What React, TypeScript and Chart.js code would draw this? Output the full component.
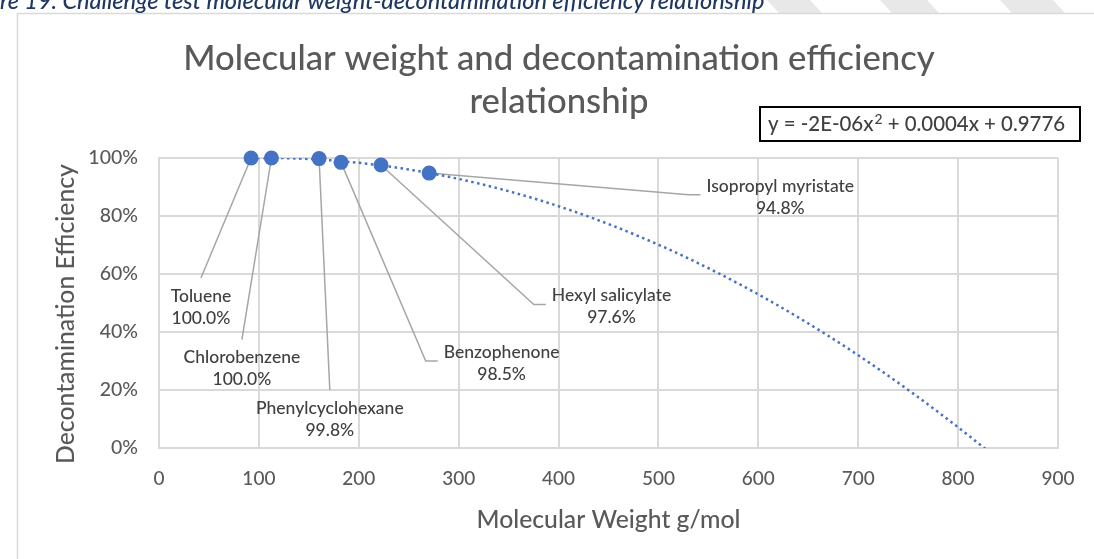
import React, { useEffect, useRef } from "react";
import { Chart, registerables } from "chart.js";

Chart.register(...registerables);

// ---------- data ----------
const compounds = [
  "Toluene",
  "Chlorobenzene",
  "Phenylcyclohexane",
  "Benzophenone",
  "Hexyl salicylate",
  "Isopropyl myristate",
];
const molecularWeights = [92.14, 112.56, 160.26, 182.22, 222.28, 270.45];
const efficiencies = [1.0, 1.0, 0.998, 0.985, 0.976, 0.948];

const xTickValues = [0, 100, 200, 300, 400, 500, 600, 700, 800, 900];
const yTickValues = [0, 0.2, 0.4, 0.6, 0.8, 1.0];

const captionText =
  "re 19. Challenge test molecular weight-decontamination efficiency relationship";
const titleLines = ["Molecular weight and decontamination efficiency", "relationship"];
const equationParts = ["y = -2E-06x", "2", " + 0.0004x + 0.9776"];
const xAxisTitle = "Molecular Weight g/mol";
const yAxisTitle = "Decontamination Efficiency";

// label placement (in axis units) and leader style
const labelCentersX = [42, 83, 171, 343, 453, 622];
const labelCentersY = [0.486, 0.274, 0.1, 0.293, 0.488, 0.866];
const leaderKinds = ["top", "top", "top", "left", "left", "left"];

// ---------- helpers ----------
const FONT = "Lato, 'Open Sans', sans-serif";
const W = "500";
const BLUE = "#4472C4";
const TXT = "#595959";
const LBL = "#404040";
const LABEL_FONT = `${W} 17.5px ${FONT}`;

function quadFit(xs: number[], ys: number[]) {
  // least-squares quadratic, x scaled by 100 for conditioning
  const t = xs.map((v) => v / 100);
  let n = t.length, s1 = 0, s2 = 0, s3 = 0, s4 = 0, sy = 0, sty = 0, st2y = 0;
  for (let i = 0; i < n; i++) {
    const a = t[i], y = ys[i];
    s1 += a; s2 += a * a; s3 += a * a * a; s4 += a * a * a * a;
    sy += y; sty += a * y; st2y += a * a * y;
  }
  const M = [
    [n, s1, s2, sy],
    [s1, s2, s3, sty],
    [s2, s3, s4, st2y],
  ];
  for (let c = 0; c < 3; c++) {
    let p = c;
    for (let r = c + 1; r < 3; r++) if (Math.abs(M[r][c]) > Math.abs(M[p][c])) p = r;
    [M[c], M[p]] = [M[p], M[c]];
    for (let r = 0; r < 3; r++) {
      if (r === c) continue;
      const f = M[r][c] / M[c][c];
      for (let k = c; k < 4; k++) M[r][k] -= f * M[c][k];
    }
  }
  const c0 = M[0][3] / M[0][0], c1 = M[1][3] / M[1][1], c2 = M[2][3] / M[2][2];
  return (x: number) => {
    const a = x / 100;
    return c0 + c1 * a + c2 * a * a;
  };
}

function fitSize(ctx: CanvasRenderingContext2D, text: string, style: string, target: number) {
  ctx.font = `${style} 100px ${FONT}`;
  const w = ctx.measureText(text).width;
  return (100 * target) / w;
}

const overlayPlugin = {
  id: "overlay",
  beforeDraw(chart: any) {
    const ctx = chart.ctx;
    ctx.save();
    ctx.fillStyle = "#ffffff";
    ctx.fillRect(0, 0, chart.width, chart.height);
    // faint watermark stripes at the top
    ctx.fillStyle = "#e8e8e8";
    const stripes = [767, 880, 1000];
    const widths = [43, 47, 53];
    stripes.forEach((s, i) => {
      ctx.beginPath();
      ctx.moveTo(s, 0);
      ctx.lineTo(s + widths[i], 0);
      ctx.lineTo(s + widths[i] + 12, 13);
      ctx.lineTo(s + 12, 13);
      ctx.closePath();
      ctx.fill();
    });
    // chart container border
    ctx.strokeStyle = "#d9d9d9";
    ctx.lineWidth = 1.5;
    ctx.strokeRect(17.5, 13.5, chart.width + 20, chart.height + 20);
    // caption
    ctx.fillStyle = "#1f3763";
    const cs = fitSize(ctx, captionText, `italic ${W}`, 765);
    ctx.font = `italic ${W} ${cs}px ${FONT}`;
    ctx.textAlign = "left";
    ctx.textBaseline = "alphabetic";
    ctx.fillText(captionText, 0, 8.5);
    ctx.restore();
  },
  beforeDatasetsDraw(chart: any) {
    const ctx = chart.ctx;
    const xs = chart.scales.x, ys = chart.scales.y;
    ctx.save();
    ctx.strokeStyle = "#a6a6a6";
    ctx.lineWidth = 1.5;
    ctx.font = LABEL_FONT;
    compounds.forEach((name, i) => {
      const px = xs.getPixelForValue(molecularWeights[i]);
      const py = ys.getPixelForValue(efficiencies[i]);
      const cx = xs.getPixelForValue(labelCentersX[i]);
      const cy = ys.getPixelForValue(labelCentersY[i]);
      ctx.beginPath();
      ctx.moveTo(px, py);
      if (leaderKinds[i] === "top") {
        ctx.lineTo(cx, cy - 29);
      } else {
        const val = (efficiencies[i] * 100).toFixed(1) + "%";
        const w = Math.max(ctx.measureText(name).width, ctx.measureText(val).width);
        const left = cx - w / 2;
        ctx.lineTo(left - 18, cy - 2);
        ctx.lineTo(left - 6, cy - 2);
      }
      ctx.stroke();
    });
    ctx.restore();
  },
  afterDraw(chart: any) {
    const ctx = chart.ctx;
    const xs = chart.scales.x, ys = chart.scales.y;
    ctx.save();
    // data labels
    ctx.fillStyle = LBL;
    ctx.font = LABEL_FONT;
    ctx.textAlign = "center";
    ctx.textBaseline = "middle";
    compounds.forEach((name, i) => {
      const cx = xs.getPixelForValue(labelCentersX[i]);
      const cy = ys.getPixelForValue(labelCentersY[i]);
      ctx.fillText(name, cx, cy - 11);
      ctx.fillText((efficiencies[i] * 100).toFixed(1) + "%", cx, cy + 11);
    });

    // chart title
    ctx.fillStyle = TXT;
    const ts = fitSize(ctx, titleLines[0], W, 752);
    ctx.font = `${W} ${ts}px ${FONT}`;
    ctx.textBaseline = "alphabetic";
    ctx.fillText(titleLines[0], 559, 70);
    ctx.fillText(titleLines[1], 559, 113);

    // axis titles
    const at = fitSize(ctx, xAxisTitle, W, 264);
    ctx.font = `${W} ${at}px ${FONT}`;
    ctx.textBaseline = "middle";
    ctx.fillText(xAxisTitle, (xs.left + xs.right) / 2, 520);
    const yt = fitSize(ctx, yAxisTitle, W, 300);
    ctx.font = `${W} ${yt}px ${FONT}`;
    ctx.translate(66, 314);
    ctx.rotate(-Math.PI / 2);
    ctx.fillText(yAxisTitle, 0, 0);
    ctx.setTransform(1, 0, 0, 1, 0, 0);

    // equation box
    ctx.fillStyle = "#ffffff";
    ctx.fillRect(760, 107, 320, 34);
    ctx.strokeStyle = "#000000";
    ctx.lineWidth = 2;
    ctx.strokeRect(760, 107, 320, 34);
    const eqFull = equationParts[0] + equationParts[1] + equationParts[2];
    const es = fitSize(ctx, eqFull, W, 300);
    ctx.fillStyle = "#404040";
    ctx.textAlign = "left";
    ctx.textBaseline = "alphabetic";
    let x = 768;
    ctx.font = `${W} ${es}px ${FONT}`;
    ctx.fillText(equationParts[0], x, 131);
    x += ctx.measureText(equationParts[0]).width + 1;
    ctx.font = `${W} ${es * 0.68}px ${FONT}`;
    ctx.fillText(equationParts[1], x, 124);
    x += ctx.measureText(equationParts[1]).width;
    ctx.font = `${W} ${es}px ${FONT}`;
    ctx.fillText(equationParts[2], x, 131);
    ctx.restore();
  },
};

export default function App() {
  const ref = useRef<HTMLCanvasElement>(null);
  useEffect(() => {
    const canvas = ref.current!;
    const f = quadFit(molecularWeights, efficiencies);
    const trend: { x: number; y: number }[] = [];
    for (let x = molecularWeights[0]; x <= 900; x += 3) {
      const y = f(x);
      trend.push({ x, y });
      if (y < 0) break;
    }
    const points = molecularWeights.map((x, i) => ({ x, y: efficiencies[i] }));

    const chart = new Chart(canvas, {
      type: "scatter",
      data: {
        datasets: [
          {
            label: "Decontamination efficiency",
            data: points,
            backgroundColor: BLUE,
            borderColor: BLUE,
            pointRadius: 7.5,
            pointBorderWidth: 0,
            showLine: false,
            clip: false as any,
          },
          {
            label: "Poly. trend",
            data: trend,
            showLine: true,
            pointRadius: 0,
            borderColor: BLUE,
            borderWidth: 2.5,
            borderDash: [2.5, 3.5],
            fill: false,
            tension: 0,
          },
        ],
      },
      options: {
        responsive: false,
        animation: false,
        devicePixelRatio: 1,
        layout: { padding: { left: 0, top: 158, right: 36, bottom: 0 } },
        plugins: {
          legend: { display: false },
          title: { display: false },
          tooltip: { enabled: false },
        },
        scales: {
          x: {
            type: "linear",
            min: 0,
            max: 900,
            afterFit: (s: any) => {
              s.height = 559 - 448;
            },
            afterBuildTicks: (s: any) => {
              s.ticks = xTickValues.map((v) => ({ value: v }));
            },
            ticks: {
              color: TXT,
              font: { family: FONT, size: 19, weight: W },
              padding: 19,
              maxRotation: 0,
              callback: (v: any) => String(v),
            },
            grid: { color: "#d9d9d9", lineWidth: 2, drawTicks: false },
            border: { display: true, color: "#d9d9d9", width: 2 },
          },
          y: {
            type: "linear",
            min: 0,
            max: 1,
            afterFit: (s: any) => {
              s.width = 159;
            },
            afterBuildTicks: (s: any) => {
              s.ticks = yTickValues.map((v) => ({ value: v }));
            },
            ticks: {
              color: TXT,
              font: { family: FONT, size: 19.5, weight: W },
              padding: 21,
              callback: (v: any) => Math.round(Number(v) * 100) + "%",
            },
            grid: { color: "#d9d9d9", lineWidth: 2, drawTicks: false },
            border: { display: true, color: "#d9d9d9", width: 2 },
          },
        },
      },
      plugins: [overlayPlugin],
    } as any);
    return () => chart.destroy();
  }, []);
  return (
    <div style={{ position: "absolute", left: 0, top: 0, width: 1094, height: 559, background: "#fff" }}>
      <canvas ref={ref} width={1094} height={559} style={{ display: "block", width: 1094, height: 559 }} />
    </div>
  );
}
